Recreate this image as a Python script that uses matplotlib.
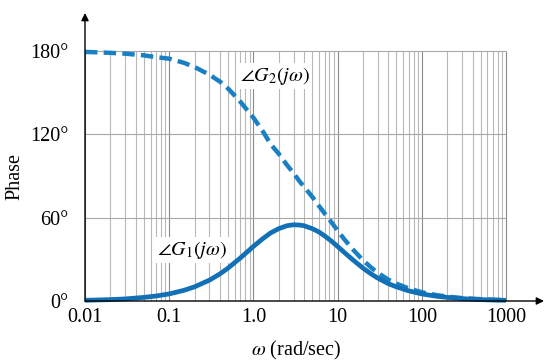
import matplotlib
matplotlib.use("Agg")
import matplotlib.pyplot as plt

# ---- data ----
omega = [0.01, 0.02, 0.03, 0.05, 0.07, 0.1, 0.15, 0.2, 0.3, 0.4, 0.5, 0.7, 1, 1.3, 1.6,
         2, 2.5, 3, 3.5, 4, 5, 6, 7, 8.5, 10, 12, 15, 20, 25, 30, 40, 50, 70, 100,
         150, 200, 300, 500, 700, 1000]
phase_g1 = [0.5, 1.0, 1.5, 2.6, 3.6, 5.1, 7.7, 10.2, 15.0, 19.5, 23.7, 31.0, 39.3, 45.0, 49.0,
            52.1, 54.2, 54.9, 54.7, 54.2, 52.1, 49.7, 46.9, 43.0, 39.3, 35.0, 29.9, 23.7, 19.5, 16.5,
            12.5, 10.2, 7.3, 5.1, 3.4, 2.6, 1.7, 1.0, 0.7, 0.5]
phase_g2 = [179.4, 178.7, 178.1, 176.9, 175.6, 174.5, 171.5, 168.5, 163.0, 158.0, 153.0, 143.5,
            132.0, 122.0, 113.0, 106.0, 98.0, 92.0, 86.5, 82.2, 75.0, 68.5, 63.1, 56.5, 50.7,
            44.5, 37.5, 29.4, 24.1, 20.3, 15.4, 12.5, 9.0, 6.3, 4.2, 3.2, 2.1, 1.3, 0.9, 0.6]

x_ticks = [0.01, 0.1, 1.0, 10, 100, 1000]
x_tick_labels = ["0.01", "0.1", "1.0", "10", "100", "1000"]
y_ticks = [0, 60, 120, 180]
y_tick_labels = ["0°", "60°", "120°", "180°"]
label_g1 = r"$\angle G_1(j\omega)$"
label_g2 = r"$\angle G_2(j\omega)$"
x_label = r"$\omega$ (rad/sec)"
y_label = "Phase"

plt.rcParams["font.family"] = ["Liberation Serif", "DejaVu Serif"]
plt.rcParams["mathtext.fontset"] = "stix"

blue = "#1270b6"
blue_dash = "#1a80c4"

fig = plt.figure(figsize=(5.57, 3.63), dpi=100)
ax = fig.add_axes([85 / 557, 1 - 301 / 363, (544 - 85) / 557, (301 - 13) / 363])
ax.set_xscale("log")
ax.set_xlim(0.01, 2826)
ax.set_ylim(0, 207.4)

# grid
minor_pos = [k * 10.0 ** n for n in range(-2, 3) for k in range(2, 10)]
ax.vlines(minor_pos, 0, 180, colors="#b8b8b8", lw=0.8, zorder=1)
ax.vlines(x_ticks, 0, 180, colors="#8a8a8a", lw=0.8, zorder=1)
ax.hlines([60, 120, 180], 0.01, 1000, colors="#a8a8a8", lw=0.8, zorder=1)

# curves
ax.plot(omega, phase_g2, color=blue_dash, lw=3.2, dashes=(2.8, 1.4), zorder=3,
        solid_capstyle="butt", clip_on=False)
ax.plot(omega, phase_g1, color=blue, lw=3.4, zorder=4, clip_on=False,
        solid_capstyle="butt")

# axes with arrows
for s in ["top", "right", "left", "bottom"]:
    ax.spines[s].set_visible(False)
ax.annotate("", xy=(1, 0), xytext=(0, 0), xycoords="axes fraction",
            arrowprops=dict(arrowstyle="-|>", color="black", lw=1.0,
                            mutation_scale=11, shrinkA=0, shrinkB=0), zorder=5)
ax.annotate("", xy=(0, 1), xytext=(0, 0), xycoords="axes fraction",
            arrowprops=dict(arrowstyle="-|>", color="black", lw=1.0,
                            mutation_scale=11, shrinkA=0, shrinkB=0), zorder=5)

ax.set_xticks(x_ticks)
ax.set_xticklabels(x_tick_labels)
ax.set_yticks(y_ticks)
ax.set_yticklabels(y_tick_labels)
ax.minorticks_off()
ax.tick_params(axis="both", length=0, labelsize=14.5)
ax.tick_params(axis="y", pad=12)
ax.tick_params(axis="x", pad=5)

fig.text(296 / 557, 1 - 350 / 363, x_label, ha="center", va="center", fontsize=14.5)
fig.text(15 / 557, 1 - 176 / 363, y_label, ha="center", va="center", rotation=90, fontsize=14.5)

bb = dict(facecolor="white", edgecolor="none", pad=1.5)
ax.text(1.8, 162, label_g2, ha="center", va="center", fontsize=14.5, bbox=bb, zorder=6)
ax.text(0.187, 36.7, label_g1, ha="center", va="center", fontsize=14.5, bbox=bb, zorder=6)

fig.savefig("out.png", dpi=100)
